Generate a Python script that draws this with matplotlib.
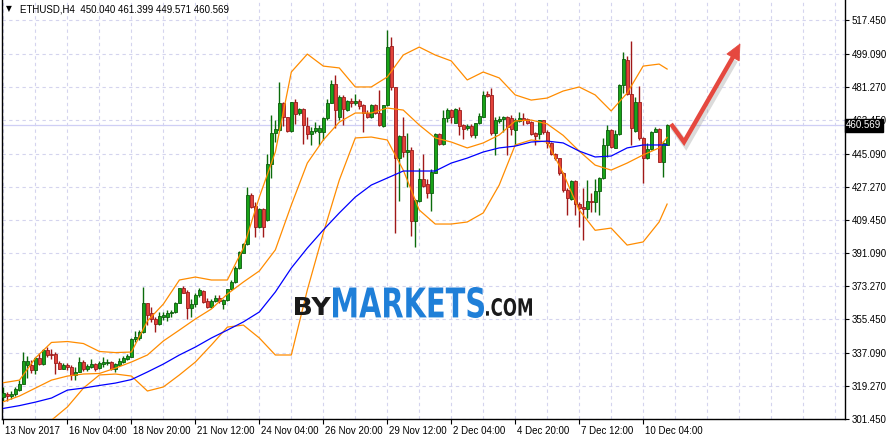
import numpy as np
import matplotlib
matplotlib.use("Agg")
import matplotlib.pyplot as plt
from matplotlib.textpath import TextPath
from matplotlib.patches import PathPatch, Polygon
from matplotlib.font_manager import FontProperties
from matplotlib.transforms import Affine2D, ScaledTranslation

# ETHUSD H4 candles (13 Nov - 10 Dec 2017)
opens = [313.5, 315.0, 314.0, 315.0, 317.1, 320.4, 330.5, 330.6, 327.9, 334.3,
         331.0, 338.8, 336.6, 336.6, 331.6, 328.7, 330.7, 329.4, 325.1, 327.0,
         332.3, 328.7, 329.8, 331.2, 329.0, 331.2, 331.6, 332.3, 328.7, 330.8,
         332.3, 333.7, 335.2, 344.6, 345.5, 348.5, 364.0, 358.6, 355.4, 352.9,
         356.8, 356.8, 358.6, 359.2, 364.4, 372.2, 370.0, 361.3, 363.5, 368.4,
         370.9, 365.3, 362.2, 365.5, 367.1, 363.7, 365.9, 371.6, 375.6, 383.0,
         391.5, 396.2, 422.7, 416.7, 405.6, 414.9, 409.2, 439.5, 456.1, 457.9,
         472.7, 464.8, 457.4, 472.9, 466.9, 469.1, 460.1, 455.7, 457.4, 457.0,
         457.0, 464.2, 472.7, 482.8, 465.1, 475.9, 468.7, 473.6, 472.3, 473.6,
         471.4, 467.3, 464.8, 471.4, 466.9, 460.1, 471.2, 503.4, 481.0, 442.5,
         454.6, 446.2, 447.1, 408.8, 419.6, 431.2, 428.7, 423.6, 434.8, 455.7,
         450.3, 464.2, 468.7, 461.9, 468.7, 460.4, 458.8, 460.1, 455.2, 461.5,
         465.1, 477.4, 476.8, 456.1, 463.0, 464.0, 464.7, 464.2, 457.9, 462.8,
         464.2, 463.8, 462.0, 456.3, 455.5, 463.1, 456.6, 450.7, 444.7, 442.5,
         434.4, 425.4, 420.5, 430.3, 417.6, 416.2, 415.1, 419.5, 419.1, 424.9,
         431.7, 449.8, 457.9, 448.3, 455.5, 482.3, 495.8, 477.2, 457.3, 472.9,
         453.4, 442.5, 447.6, 457.0, 458.3, 440.7, 450.04]
highs = [318.6, 316.2, 316.8, 318.6, 322.5, 337.9, 335.5, 333.4, 334.8, 337.0,
         339.1, 340.2, 339.1, 337.9, 333.0, 331.6, 331.6, 330.7, 329.8, 335.2,
         333.4, 331.2, 333.7, 331.6, 333.0, 334.8, 333.7, 333.0, 331.6, 334.3,
         335.5, 336.6, 345.1, 349.2, 349.6, 373.1, 364.4, 362.2, 356.8, 359.5,
         359.5, 360.4, 360.4, 364.8, 372.5, 373.4, 371.3, 366.2, 369.5, 372.2,
         371.3, 366.8, 366.2, 368.6, 368.6, 366.6, 372.0, 376.7, 384.3, 392.6,
         396.9, 426.8, 423.6, 419.1, 415.5, 415.5, 444.9, 466.0, 463.3, 484.1,
         473.2, 465.1, 473.2, 474.5, 469.6, 469.6, 465.1, 459.7, 462.4, 460.6,
         464.8, 474.5, 485.0, 487.7, 476.8, 476.8, 474.1, 475.0, 477.4, 474.5,
         472.0, 468.7, 472.0, 472.0, 479.6, 471.4, 512.0, 508.4, 481.4, 455.2,
         464.8, 456.1, 448.9, 420.4, 437.3, 444.9, 431.2, 436.6, 456.1, 456.4,
         468.7, 469.6, 469.1, 469.6, 470.2, 461.1, 461.1, 461.1, 461.9, 467.3,
         479.2, 479.2, 480.5, 465.1, 465.5, 465.5, 465.5, 466.0, 464.2, 467.8,
         466.9, 464.2, 462.8, 457.0, 463.3, 463.3, 457.9, 451.2, 445.3, 442.9,
         435.0, 426.3, 430.8, 430.6, 419.1, 426.3, 430.8, 423.6, 431.4, 432.6,
         453.7, 460.6, 458.3, 457.9, 482.6, 500.3, 498.1, 506.1, 475.9, 481.9,
         454.3, 450.7, 457.3, 459.7, 459.2, 451.9, 461.399]
lows = [311.2, 311.3, 312.1, 313.9, 316.8, 320.2, 323.4, 326.1, 325.8, 330.7,
        330.7, 334.8, 333.7, 325.8, 328.3, 328.3, 328.0, 322.5, 322.5, 327.0,
        327.2, 327.6, 328.8, 327.2, 328.7, 329.8, 330.7, 328.0, 326.9, 330.5,
        331.9, 333.4, 334.8, 343.3, 344.2, 348.2, 352.3, 354.1, 348.7, 352.3,
        355.0, 354.7, 356.8, 358.6, 364.0, 369.5, 355.4, 356.5, 362.2, 367.3,
        364.4, 361.3, 361.3, 364.9, 364.4, 360.8, 365.5, 371.3, 375.2, 382.5,
        391.1, 395.6, 415.5, 399.8, 405.0, 400.2, 408.8, 431.7, 451.6, 457.5,
        460.1, 457.0, 457.0, 461.1, 466.0, 450.3, 452.8, 449.8, 456.4, 449.8,
        452.5, 463.3, 472.3, 458.8, 463.3, 460.6, 468.4, 470.2, 471.4, 469.1,
        457.0, 464.2, 464.2, 466.6, 460.1, 459.7, 470.9, 479.6, 402.3, 419.6,
        443.1, 427.2, 400.5, 394.7, 419.1, 427.2, 420.9, 414.2, 434.4, 449.8,
        449.8, 462.4, 461.9, 461.5, 455.2, 452.8, 457.9, 453.9, 453.4, 461.1,
        464.8, 475.6, 455.2, 444.4, 461.5, 457.0, 444.4, 455.2, 449.8, 462.0,
        460.6, 461.0, 455.2, 449.8, 453.0, 455.9, 448.0, 444.4, 441.7, 433.5,
        424.5, 411.9, 420.0, 411.9, 405.6, 398.3, 410.1, 413.7, 413.7, 411.9,
        431.4, 443.5, 448.3, 448.0, 455.2, 477.8, 476.8, 449.8, 457.0, 452.5,
        429.0, 442.2, 447.1, 456.6, 440.4, 432.6, 449.571]
closes = [315.3, 314.0, 315.0, 317.5, 320.4, 333.0, 333.0, 327.9, 334.3, 331.0,
          338.8, 335.9, 335.9, 331.6, 328.7, 330.7, 329.4, 325.1, 327.0, 332.3,
          328.3, 330.1, 331.2, 328.7, 331.6, 332.5, 332.3, 328.7, 331.2, 333.0,
          334.4, 335.5, 344.6, 346.0, 348.7, 364.0, 357.7, 355.4, 352.9, 357.2,
          357.7, 359.0, 359.5, 364.4, 372.2, 369.8, 361.3, 363.7, 368.4, 371.3,
          364.9, 362.2, 365.5, 367.1, 365.5, 365.9, 371.6, 375.8, 383.4, 392.0,
          396.2, 422.7, 416.4, 405.6, 414.9, 405.6, 439.5, 456.1, 458.4, 472.7,
          464.8, 457.4, 472.9, 466.4, 469.1, 460.6, 455.7, 457.5, 458.8, 458.8,
          464.2, 472.7, 482.8, 468.7, 475.9, 469.1, 473.6, 472.3, 473.6, 470.9,
          467.3, 464.8, 471.4, 466.9, 460.4, 471.2, 503.0, 481.0, 442.5, 454.6,
          446.2, 447.1, 408.8, 420.0, 431.2, 427.8, 423.6, 435.2, 455.7, 450.3,
          464.2, 468.7, 465.1, 469.1, 460.1, 458.6, 460.1, 455.2, 461.5, 465.5,
          476.8, 476.3, 456.1, 463.3, 464.0, 464.7, 459.3, 458.4, 463.3, 464.2,
          463.3, 461.5, 455.9, 454.8, 463.1, 456.6, 450.7, 444.7, 442.5, 434.4,
          425.2, 421.3, 430.3, 417.6, 415.8, 414.9, 419.5, 419.1, 424.9, 431.7,
          449.8, 457.9, 448.9, 455.5, 482.3, 496.3, 477.2, 458.8, 472.9, 453.4,
          442.5, 447.6, 457.0, 458.3, 440.7, 450.7, 460.569]

# indicator lines every 4 bars (+ last bar)
band_bars = list(range(0, 165, 4)) + [166]
bb_upper = [321.1, 322.5, 334.5, 342.9, 343.4, 342.3, 338.0, 337.4, 337.7, 354.5,
            363.7, 376.7, 378.3, 376.7, 376.7, 394.0, 421.6, 446.0, 489.3, 499.0,
            492.5, 491.5, 481.2, 481.2, 486.6, 498.5, 502.8, 498.5, 495.3, 485.0,
            489.3, 486.1, 476.9, 474.1, 475.2, 479.0, 481.2, 476.9, 468.2, 477.9,
            492.5, 493.6, 490.9]
bb_middle = [310.8, 313.9, 318.2, 322.5, 324.7, 325.8, 326.1, 329.0, 332.3, 336.1,
             343.7, 349.6, 355.6, 361.0, 369.1, 375.6, 381.6, 393.0, 417.3, 440.0,
             452.5, 462.2, 467.1, 467.1, 469.8, 468.7, 460.6, 453.6, 451.4, 448.2,
             450.9, 455.2, 462.8, 463.3, 461.2, 455.0, 446.5, 438.9, 436.2, 440.0,
             444.4, 448.2, 453.9]
bb_lower = [299.8, 299.0, 298.5, 300.8, 308.0, 318.2, 325.3, 325.8, 324.7, 316.6,
            318.8, 325.3, 332.3, 341.5, 351.2, 352.3, 345.3, 336.1, 336.1, 371.3,
            402.1, 430.8, 453.6, 454.1, 452.5, 436.2, 414.6, 407.0, 407.0, 408.1,
            413.0, 428.1, 449.8, 452.5, 451.4, 434.5, 414.6, 403.6, 404.8, 395.6,
            397.3, 408.1, 417.8]
ma_line = [307.2, 308.7, 310.6, 312.8, 317.1, 318.2, 319.6, 320.9, 322.8, 326.9,
           331.2, 336.1, 340.4, 345.3, 349.6, 354.0, 359.4, 370.2, 383.2, 394.0,
           403.8, 413.0, 421.6, 428.1, 431.9, 435.7, 435.7, 435.7, 440.0, 442.7,
           446.0, 448.2, 449.2, 451.4, 451.9, 450.9, 446.5, 443.3, 443.8, 448.2,
           449.8, 449.8, 449.8]

price_ticks = [301.45, 319.27, 337.09, 355.45, 373.27, 391.09, 409.45, 427.27,
               445.09, 463.45, 481.27, 499.09, 517.45]
date_bars = [0, 16, 32, 48, 64, 80, 96, 112, 128, 144, 160]
date_labels = ["13 Nov 2017", "16 Nov 04:00", "18 Nov 20:00", "21 Nov 12:00",
               "24 Nov 04:00", "26 Nov 20:00", "29 Nov 12:00", "2 Dec 04:00",
               "4 Dec 20:00", "7 Dec 12:00", "10 Dec 04:00"]
last_price = 460.569

plt.rcParams["font.family"] = ["Liberation Sans", "DejaVu Sans"]

fig = plt.figure(figsize=(8.88, 4.4), dpi=100)
ax = fig.add_axes([1.5 / 888, 21 / 440, 843.5 / 888, 419 / 440])
ax.set_xlim(-0.5, 210.5)
ax.set_ylim(301.45, 528.28)

grid_col = "#d4d4ee"
for b in range(0, 211, 8):
    ax.axvline(b, color=grid_col, lw=0.8, ls=(0, (3, 3)), zorder=0)
for p in price_ticks:
    ax.axhline(p, color=grid_col, lw=0.8, ls=(0, (3, 3)), zorder=0)
ax.axhline(last_price, color="#cfcff5", lw=0.9, zorder=0.5)

o = np.array(opens)
h = np.array(highs)
l = np.array(lows)
c = np.array(closes)
x = np.arange(len(o))
up = c >= o
wick_col = np.where(up, "#0b6b0b", "#a01818")
body_col = np.where(up, "#18a318", "#e3423a")
edge_col = np.where(up, "#0b5a0b", "#9a1a1a")

ax.vlines(x, l, h, colors=wick_col, lw=1.0, zorder=2)
ax.bar(x, np.maximum(np.abs(c - o), 0.45), bottom=np.minimum(o, c), width=0.75,
       color=body_col, edgecolor=edge_col, linewidth=0.6, zorder=3)

ax.plot(band_bars, bb_upper, color="#ff8c00", lw=0.9, zorder=4)
ax.plot(band_bars, bb_middle, color="#ff8c00", lw=0.9, zorder=4)
ax.plot(band_bars, bb_lower, color="#ff8c00", lw=0.9, zorder=4)
ax.plot(band_bars, ma_line, color="#0000ff", lw=0.9, zorder=4)

for s in ["left", "bottom", "right"]:
    ax.spines[s].set_color("black")
    ax.spines[s].set_linewidth(1.0)
ax.spines["top"].set_visible(False)

ax.yaxis.tick_right()
ax.set_yticks(price_ticks)
ax.set_yticklabels([f"{p:.3f}" for p in price_ticks])
ax.tick_params(axis="y", which="major", length=3, width=0.8, pad=2,
               labelsize=7, colors="black")
ax.set_xticks(date_bars)
ax.set_xticklabels(date_labels)
ax.tick_params(axis="x", which="major", length=3.5, width=0.8, pad=1.5,
               labelsize=7, colors="black")
for lab in ax.get_xticklabels():
    lab.set_horizontalalignment("left")
    lab.set_transform(lab.get_transform() + ScaledTranslation(1.5 / 100, 0, fig.dpi_scale_trans))

ax.text(1.0015, last_price, f"{last_price:.3f}", transform=ax.get_yaxis_transform(),
        ha="left", va="center", fontsize=7, color="white", zorder=10,
        bbox=dict(boxstyle="square,pad=0.15", facecolor="black", edgecolor="black"))

ax.text(4 / 843.5, 1 - 9 / 419, "\u25bc", transform=ax.transAxes, fontsize=5.5,
        va="center", ha="left", family="DejaVu Sans")
ax.text(18 / 843.5, 1 - 9 / 419, "ETHUSD,H4  450.040 461.399 449.571 460.569",
        transform=ax.transAxes, fontsize=7, va="center", ha="left")

# overlay in pixel coordinates for the watermark and the arrow
ov = fig.add_axes([0, 0, 1, 1], zorder=5)
ov.set_xlim(0, 888)
ov.set_ylim(440, 0)
ov.axis("off")
ov.patch.set_alpha(0)


def put_text(s, x0, x1, ytop, ybot, color, weight="bold"):
    tp = TextPath((0, 0), s, size=1, prop=FontProperties(family="DejaVu Sans", weight=weight))
    bb = tp.get_extents()
    tr = (Affine2D().translate(-bb.x0, -bb.y0)
          .scale((x1 - x0) / bb.width, -(ybot - ytop) / bb.height)
          .translate(x0, ybot))
    ov.add_patch(PathPatch(tr.transform_path(tp), facecolor=color, edgecolor="none"))


put_text("BY", 295, 331, 297, 315, "#1a1a1a")
put_text("MARKETS", 333, 484, 287, 318, "#1f7fd8")
put_text(".COM", 486, 532, 298, 316, "#1a1a1a")

# red forecast arrow with soft shadow
px = [671, 684, 733]
py = [124, 142, 57]
ov.plot([v + 2 for v in px], [v + 3 for v in py], color="#999999", lw=4.5, alpha=0.35,
        solid_joinstyle="miter", solid_capstyle="butt")
ov.plot(px, py, color="#e5483f", lw=3.2, solid_joinstyle="miter", solid_capstyle="butt")
ov.add_patch(Polygon([[740, 44], [739.2, 61], [726.8, 54]], closed=True,
                     facecolor="#e5483f", edgecolor="#e5483f", lw=0.5))

fig.savefig("out.png", dpi=100)
